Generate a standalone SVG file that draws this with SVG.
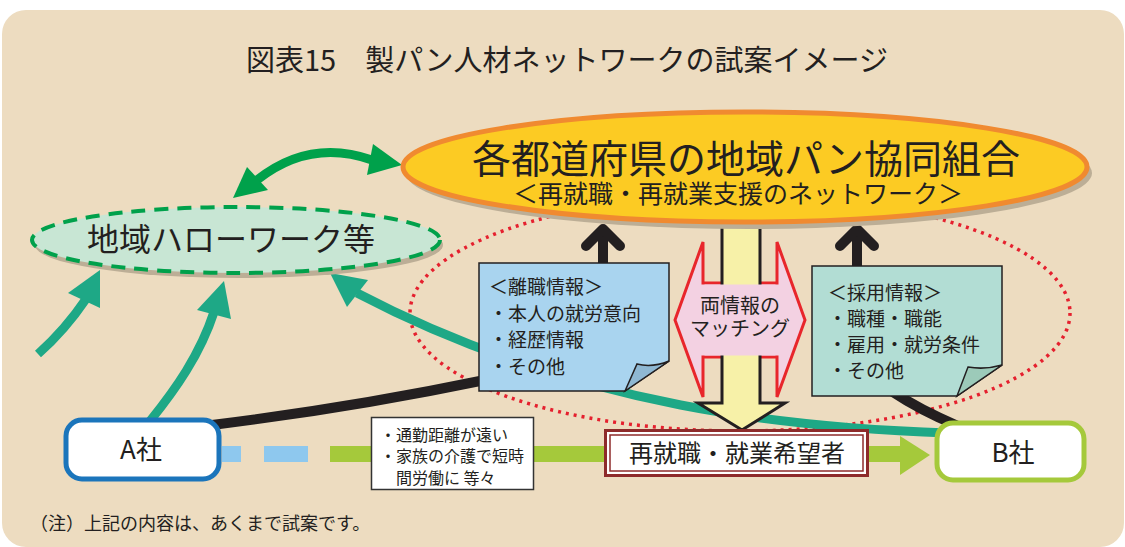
<svg xmlns="http://www.w3.org/2000/svg" width="1125" height="547" viewBox="0 0 1125 547">
<style>
text{font-family:"Noto Sans CJK JP","Noto Sans",sans-serif;fill:#231F20}
.teal{fill:none;stroke:#1EA886;stroke-width:9}
.tealh{fill:#1EA886}
.grn{fill:none;stroke:#00A14B;stroke-width:9}
.grnh{fill:#00A14B}
.blk{fill:none;stroke:#231F20;stroke-width:10}
.chev{fill:none;stroke:#231F20;stroke-width:10;stroke-linecap:round;stroke-linejoin:round}
.shadow{fill:#BCAE96}
.note{stroke:#231F20;stroke-width:1.5}
.nt{font-size:19px}
</style>
<rect x="2" y="10" width="1122" height="537" rx="24" fill="#EDDCC0"/>
<text x="567" y="71" font-size="29" text-anchor="middle">図表15　製パン人材ネットワークの試案イメージ</text>

<ellipse cx="740" cy="313" rx="330" ry="118" fill="none" stroke="#E5202E" stroke-width="3.5" stroke-dasharray="3 5"/>

<g id="connectors">
<path class="teal" d="M38,354 Q65,330 86,299"/>
<polygon class="tealh" points="100,270 68,293 100,308"/>
<path class="teal" d="M150,421 C175,390 200,355 214,312"/>
<polygon class="tealh" points="224,281 197,310 231,319"/>
<path class="teal" d="M948,433 C800,428 580,410 357,293"/>
<polygon class="tealh" points="330,273 347,307 368,280"/>
<path class="grn" d="M257,180 Q310,138 372,160"/>
<polygon class="grnh" points="233,198 247,167 268,190"/>
<polygon class="grnh" points="402,165 373,144 367,175"/>
<path class="blk" d="M212,425 Q350,408 485,380"/>
<path class="blk" d="M893,392 Q920,410 958,426"/>
<path class="blk" d="M603,266 L603,232"/>
<path class="chev" d="M586,246 L603,229 L620,246"/>
<path class="blk" d="M857,268 L857,232"/>
<path class="chev" d="M840,246 L857,229 L874,246"/>
</g>

<g id="hellowork">
<ellipse class="shadow" cx="239" cy="245" rx="204" ry="33"/>
<ellipse cx="236" cy="240" rx="204" ry="33" fill="#C8E6D4" stroke="#00A14B" stroke-width="4" stroke-dasharray="14 9"/>
<text x="231" y="251" font-size="32" text-anchor="middle">地域ハローワーク等</text>
</g>

<g id="matching">
<polygon points="675,320 703,242 703,283 777,283 777,242 805,320 777,397 777,357 703,357 703,397" fill="#F3D1E2" stroke="#E8262B" stroke-width="3" stroke-linejoin="miter"/>
<polygon points="722,215 722,403 698,403 742,430 785,403 760,403 760,215" fill="#F7F1A8" stroke="#231F20" stroke-width="3" stroke-linejoin="miter"/>
<rect x="704.5" y="284.5" width="71" height="71" fill="#F3D1E2"/>
<text x="740" y="313" font-size="20" text-anchor="middle">両情報の</text>
<text x="740" y="336" font-size="20" text-anchor="middle">マッチング</text>
</g>

<g id="kumiai">
<ellipse class="shadow" cx="749" cy="173" rx="343" ry="56"/>
<ellipse cx="745" cy="167" rx="342" ry="55" fill="#FCCB23" stroke="#F08A30" stroke-width="5"/>
<text x="746" y="173" font-size="39" text-anchor="middle">各都道府県の地域パン協同組合</text>
<text x="738" y="203" font-size="25" text-anchor="middle">＜再就職・再就業支援のネットワーク＞</text>
</g>

<g id="rishoku">
<polygon class="note" points="479,263 669,263 669,361 625,391 479,391" fill="#A9D4EF"/>
<path class="note" d="M625,391 L637,364 Q652,368 669,361 Z" fill="#8FB8D3"/>
<text class="nt" x="489" y="294">＜離職情報＞</text>
<text class="nt" x="489" y="321">・本人の就労意向</text>
<text class="nt" x="489" y="347">・経歴情報</text>
<text class="nt" x="489" y="374">・その他</text>
</g>

<g id="saiyou">
<polygon class="note" points="812,266 1002,266 1002,365 957,396 812,396" fill="#B2DDD4"/>
<path class="note" d="M957,396 L968,367 Q985,370 1002,365 Z" fill="#9CCAB9"/>
<text class="nt" x="828" y="300">＜採用情報＞</text>
<text class="nt" x="828" y="326">・職種・職能</text>
<text class="nt" x="828" y="352">・雇用・就労条件</text>
<text class="nt" x="828" y="378">・その他</text>
</g>

<g id="flow">
<rect x="222" y="446" width="19" height="16" fill="#8EC8EE"/>
<rect x="264" y="446" width="44" height="16" fill="#8EC8EE"/>
<rect x="330" y="446" width="572" height="16" fill="#A5C93B"/>
<polygon points="900,436 930,455 900,475" fill="#A5C93B"/>
</g>

<g id="reason">
<rect x="371.5" y="417.5" width="162" height="72" fill="#FFFFFF" stroke="#333333" stroke-width="1.5"/>
<text x="380" y="441" font-size="16">・通勤距離が遠い</text>
<text x="380" y="462" font-size="16">・家族の介護で短時</text>
<text x="396" y="484" font-size="16">間労働に 等々</text>
</g>

<g id="kibousha">
<rect x="605.5" y="430.5" width="262" height="45" fill="#FFFFFF" stroke="#8E2B2B" stroke-width="3"/>
<rect x="610" y="435" width="253" height="36" fill="none" stroke="#8E2B2B" stroke-width="1.5"/>
<text x="737" y="462" font-size="24" text-anchor="middle">再就職・就業希望者</text>
</g>

<g id="a-sha">
<rect x="66" y="420" width="153" height="59" rx="16" fill="#FFFFFF" stroke="#1B75BB" stroke-width="5"/>
<text x="141" y="459" font-size="26" text-anchor="middle">A社</text>
</g>

<g id="b-sha">
<rect x="937" y="423" width="147" height="57" rx="16" fill="#FFFFFF" stroke="#A5C93B" stroke-width="5"/>
<text x="1013" y="462" font-size="26" text-anchor="middle">B社</text>
</g>

<text x="30" y="530" font-size="18">（注）上記の内容は、あくまで試案です。</text>
</svg>
